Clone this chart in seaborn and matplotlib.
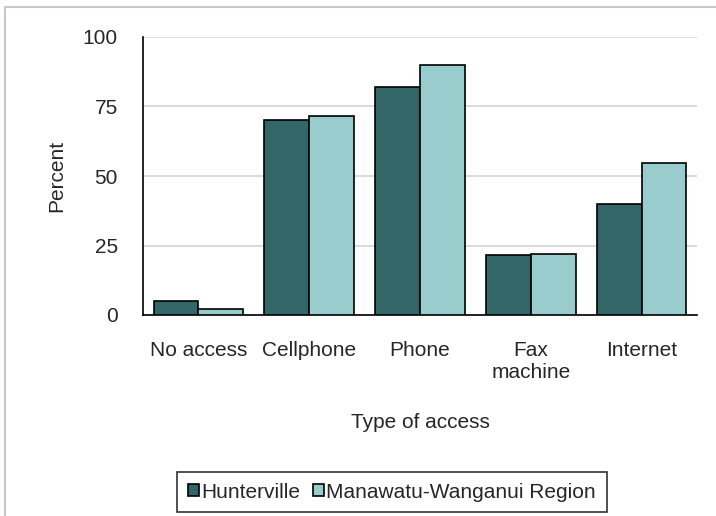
import pandas as pd
import matplotlib
matplotlib.use('Agg')
import matplotlib.pyplot as plt
import seaborn as sns
from matplotlib.patches import Rectangle

# Data
categories = ['No access', 'Cellphone', 'Phone', 'Fax\nmachine', 'Internet']
hunterville = [5, 70, 82, 21.5, 40]
region = [2, 71.5, 90, 22, 54.5]
series_names = ['Hunterville', 'Manawatu-Wanganui Region']
colors = ['#336666', '#99CCCC']

df = pd.DataFrame({
    'Type of access': categories * 2,
    'Percent': hunterville + region,
    'Area': [series_names[0]] * len(categories) + [series_names[1]] * len(categories),
})

sns.set_style('white')
plt.rcParams['font.family'] = ['Liberation Sans', 'DejaVu Sans']

fig = plt.figure(figsize=(7.16, 5.16), dpi=100)
ax = fig.add_axes([143 / 716, 1 - 315 / 516, 554 / 716, 278 / 516])

sns.barplot(
    data=df, x='Type of access', y='Percent', hue='Area',
    palette=colors, saturation=1, width=0.81, gap=0,
    edgecolor='black', linewidth=1.2, ax=ax, zorder=3,
)

ax.set_ylim(0, 100)
ax.set_yticks([0, 25, 50, 75, 100])
ax.set_xlim(-0.5, len(categories) - 0.5)
ax.yaxis.grid(True, color='#d4d4d4', linewidth=1.2, zorder=0)
ax.set_axisbelow(True)
for side in ['top', 'right']:
    ax.spines[side].set_visible(False)
for side in ['left', 'bottom']:
    ax.spines[side].set_color('black')
    ax.spines[side].set_linewidth(1.2)

ax.tick_params(axis='y', length=0, pad=18, labelsize=15)
ax.tick_params(axis='x', length=0, pad=19, labelsize=15)
ax.set_xlabel('Type of access', fontsize=15, labelpad=22)
ax.set_ylabel('Percent', fontsize=15, labelpad=12)

leg = ax.legend(
    loc='center', bbox_to_anchor=(392 / 716, 1 - 492 / 516), bbox_transform=fig.transFigure,
    ncol=2, fontsize=15, frameon=True, fancybox=False, edgecolor='black',
    handlelength=0.55, handleheight=0.55, handletextpad=0.1, columnspacing=0.6,
    borderpad=0.5,
)
leg.get_frame().set_linewidth(1.2)

# light outer frame
fig.patches.append(Rectangle((5 / 716, -0.1), 1.2, 1.1 - 7 / 516,
                             transform=fig.transFigure, fill=False,
                             edgecolor='#c8c8c8', linewidth=1.5))

fig.savefig('out.png', dpi=100)
